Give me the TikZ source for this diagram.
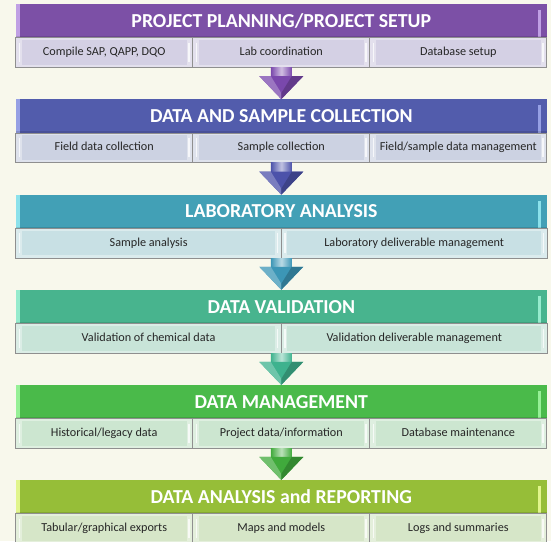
\documentclass[tikz,border=0pt]{standalone}
\usepackage{fontspec}
\setmainfont{Carlito}
\usetikzlibrary{calc}
\definecolor{bg}{RGB}{248,248,236}
\definecolor{hA}{RGB}{124,80,166}\definecolor{lA}{RGB}{192,160,228}\definecolor{sA}{RGB}{212,208,228}\definecolor{aA}{RGB}{122,72,172}
\definecolor{hB}{RGB}{82,92,172}\definecolor{lB}{RGB}{150,160,228}\definecolor{sB}{RGB}{204,210,226}\definecolor{aB}{RGB}{76,82,170}
\definecolor{hC}{RGB}{66,160,182}\definecolor{lC}{RGB}{140,225,235}\definecolor{sC}{RGB}{200,224,228}\definecolor{aC}{RGB}{60,150,182}
\definecolor{hD}{RGB}{72,180,142}\definecolor{lD}{RGB}{150,235,205}\definecolor{sD}{RGB}{200,228,216}\definecolor{aD}{RGB}{62,178,142}
\definecolor{hE}{RGB}{74,186,74}\definecolor{lE}{RGB}{150,240,150}\definecolor{sE}{RGB}{204,230,208}\definecolor{aE}{RGB}{64,170,60}
\definecolor{hF}{RGB}{150,190,56}\definecolor{lF}{RGB}{225,245,140}\definecolor{sF}{RGB}{214,230,200}
\tikzset{
  hdr/.style 2 args={fill=#1, minimum width=531pt, minimum height=33.5pt, inner sep=0pt,
    text height=13pt, text depth=0.4pt,
    text=white, font=\bfseries\fontsize{19.8}{21}\selectfont,
    path picture={
      \fill[#2] (path picture bounding box.north west) rectangle ([xshift=4.5pt]path picture bounding box.south west);
      \fill[#2] ([xshift=-8.5pt,yshift=-6pt]path picture bounding box.north east) rectangle ([xshift=-6pt]path picture bounding box.south east);
      \fill[black,opacity=0.12] ([yshift=1.5pt]path picture bounding box.south west) rectangle (path picture bounding box.south east);
    }},
  subbox/.style={fill=#1!65!white, draw=gray!75!black!70, line width=0.8pt, minimum height=29.5pt, inner sep=0pt,
    text height=8.5pt, text depth=2.5pt,
    text=black!85, font=\fontsize{12.2}{14}\selectfont,
    path picture={
      \fill[#1] ([xshift=6pt,yshift=-2.5pt]path picture bounding box.north west) rectangle ([xshift=-6pt,yshift=2.5pt]path picture bounding box.south east);
      \fill[white,opacity=0.75] ([xshift=3pt,yshift=-5pt]path picture bounding box.north west) rectangle ([xshift=4.5pt,yshift=5pt]path picture bounding box.south west);
      \fill[white,opacity=0.75] ([xshift=-4.5pt,yshift=-5pt]path picture bounding box.north east) rectangle ([xshift=-3pt,yshift=5pt]path picture bounding box.south east);
    }},
  three/.style={subbox=#1, minimum width=177pt},
  two/.style={subbox=#1, minimum width=265.7pt},
}
\newcommand{\flowarrow}[3]{%
  \shade[left color=#3, right color=#3, middle color=#3!35!white]
    ($(#1)+(-10.5,0)$) rectangle ($(#2)+(10.5,-22.5)$);
  \fill[#3] ($(#2)+(-22,-23)$) -- ($(#2)+(22,-23)$) -- (#2) -- cycle;
  \fill[#3!75!white] ($(#2)+(-22,-23)$) -- ($(#2)+(-10.5,-23)$) -- ($(#2)+(0,-6)$) -- (#2) -- cycle;
  \fill[#3!80!black] ($(#2)+(22,-23)$) -- ($(#2)+(10.5,-23)$) -- ($(#2)+(0,-6)$) -- (#2) -- cycle;
}
\begin{document}
\begin{tikzpicture}[x=1pt,y=-1pt]
\fill[bg] (0,0) rectangle (551,541);
\useasboundingbox (0,0) rectangle (551,541);
% section 1
\node[hdr={hA}{lA}] (h1) at (281.3,21) {PROJECT PLANNING/PROJECT SETUP};
\node[three=sA] (s1a) at (104.2,52.6) {Compile SAP, QAPP, DQO};
\node[three=sA] (s1b) at (281.3,52.6) {Lab coordination};
\node[three=sA] (s1c) at (458.3,52.6) {Database setup};
% section 2
\node[hdr={hB}{lB}] (h2) at (281.3,116.1) {DATA AND SAMPLE COLLECTION};
\node[three=sB] (s2a) at (104.2,147.7) {Field data collection};
\node[three=sB] (s2b) at (281.3,147.7) {Sample collection};
\node[three=sB] (s2c) at (458.3,147.7) {Field/sample data management};
% section 3
\node[hdr={hC}{lC}] (h3) at (281.3,211.6) {LABORATORY ANALYSIS};
\node[two=sC] (s3a) at (148.6,243.2) {Sample analysis};
\node[two=sC] (s3b) at (414.2,243.2) {Laboratory deliverable management};
% section 4
\node[hdr={hD}{lD}] (h4) at (281.3,306.7) {DATA VALIDATION};
\node[two=sD] (s4a) at (148.6,338.3) {Validation of chemical data};
\node[two=sD] (s4b) at (414.2,338.3) {Validation deliverable management};
% section 5
\node[hdr={hE}{lE}] (h5) at (281.3,401.8) {DATA MANAGEMENT};
\node[three=sE] (s5a) at (104.2,433.4) {Historical/legacy data};
\node[three=sE] (s5b) at (281.3,433.4) {Project data/information};
\node[three=sE] (s5c) at (458.3,433.4) {Database maintenance};
% section 6
\node[hdr={hF}{lF}] (h6) at (281.3,496.9) {DATA ANALYSIS and REPORTING};
\node[three=sF] (s6a) at (104.2,528.5) {Tabular/graphical exports};
\node[three=sF] (s6b) at (281.3,528.5) {Maps and models};
\node[three=sF] (s6c) at (458.3,528.5) {Logs and summaries};
% arrows
\flowarrow{s1b.south}{h2.north}{aA}
\flowarrow{s2b.south}{h3.north}{aB}
\flowarrow{h3.south |- s3a.south}{h4.north}{aC}
\flowarrow{h4.south |- s4a.south}{h5.north}{aD}
\flowarrow{s5b.south}{h6.north}{aE}
\end{tikzpicture}
\end{document}
